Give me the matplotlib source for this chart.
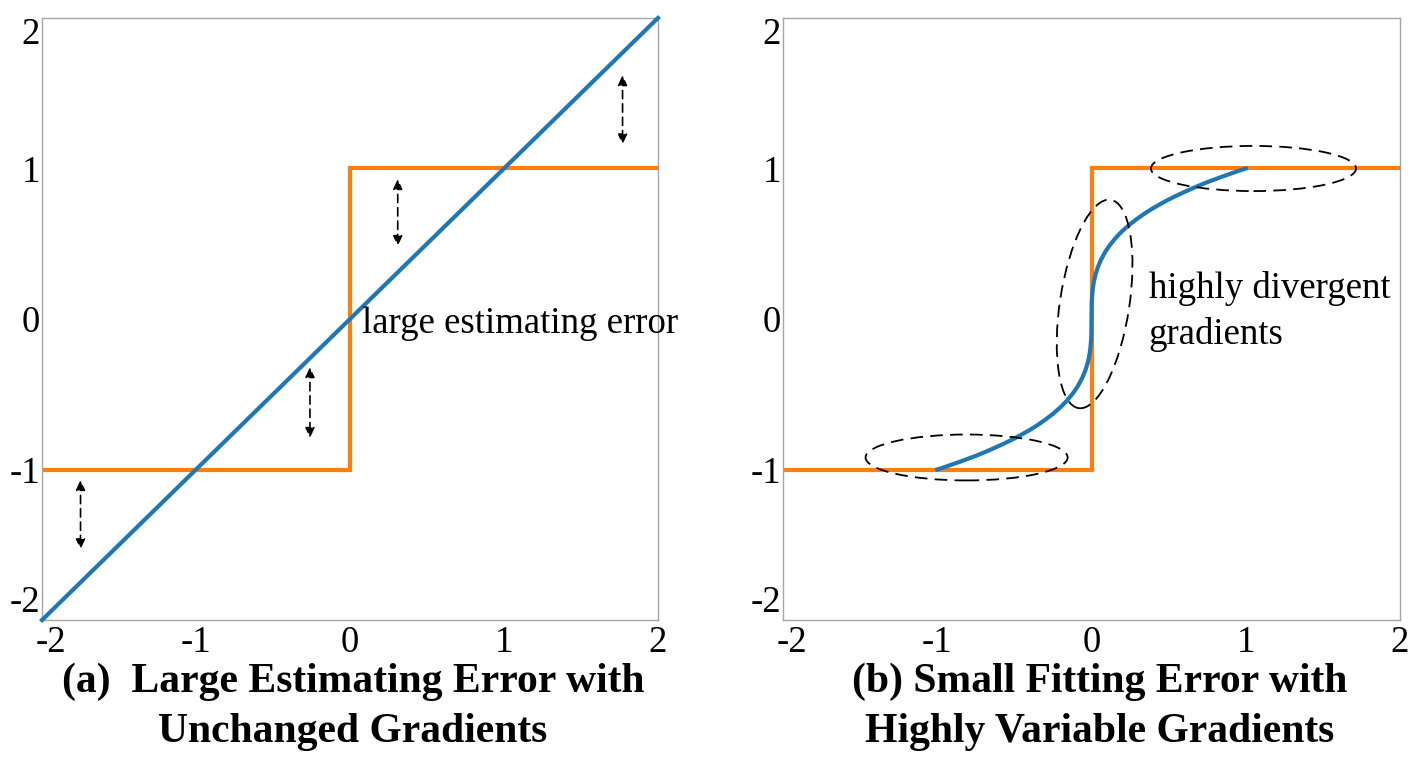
"""Two panels comparing a straight-through estimator (left) with a smooth
cube-root-like surrogate (right) against the sign step function."""

import matplotlib
matplotlib.use("Agg")
import matplotlib.pyplot as plt
import matplotlib.transforms as mtransforms
from matplotlib.patches import Ellipse, FancyArrowPatch

plt.rcParams["font.family"] = ["Liberation Serif", "DejaVu Serif"]

BLUE = "#1f77b4"
ORANGE = "#ff7f0e"
SPINE = "#a6a6a6"

TICKS = [-2, -1, 0, 1, 2]
TICK_LABELS = ["-2", "-1", "0", "1", "2"]

# sign step (both panels)
STEP_X = [-2, 0, 0, 2]
STEP_Y = [-1, -1, 1, 1]

# panel (a): identity estimator
LINEAR_X = [-2, 2]
LINEAR_Y = [-2, 2]

# panel (b): smooth surrogate
CURVE_X = [-1.0, -0.95, -0.9, -0.85, -0.8, -0.75, -0.7, -0.65, -0.6, -0.55,
           -0.5, -0.45, -0.4, -0.35, -0.3, -0.25, -0.2, -0.16, -0.12, -0.09,
           -0.06, -0.04, -0.025, -0.015, -0.008, -0.003, -0.001, 0.0,
           0.001, 0.003, 0.008, 0.015, 0.025, 0.04, 0.06, 0.09, 0.12, 0.16,
           0.2, 0.25, 0.3, 0.35, 0.4, 0.45, 0.5, 0.55, 0.6, 0.65, 0.7, 0.75,
           0.8, 0.85, 0.9, 0.95, 1.0]
CURVE_Y = [-1.0, -0.983, -0.965, -0.947, -0.928, -0.909, -0.888, -0.866,
           -0.843, -0.819, -0.794, -0.766, -0.737, -0.705, -0.669, -0.630,
           -0.585, -0.543, -0.493, -0.448, -0.391, -0.342, -0.292, -0.247,
           -0.200, -0.144, -0.100, 0.0,
           0.100, 0.144, 0.200, 0.247, 0.292, 0.342, 0.391, 0.448, 0.493,
           0.543, 0.585, 0.630, 0.669, 0.705, 0.737, 0.766, 0.794, 0.819,
           0.843, 0.866, 0.888, 0.909, 0.928, 0.947, 0.965, 0.983, 1.0]

# panel (a): dashed double arrows showing the error
ARROW_X = [1.77, 0.31, -0.26, -1.75]
ARROW_TOP = [1.62, 0.93, -0.32, -1.07]
ARROW_BOTTOM = [1.16, 0.485, -0.79, -1.53]

# panel (b): dashed ellipses
ELLIPSE_CX = [1.05, -0.81, 0.02]
ELLIPSE_CY = [1.0, -0.92, 0.10]
ELLIPSE_W = [1.33, 1.31, 0.45]
ELLIPSE_H = [0.30, 0.305, 1.40]
ELLIPSE_ANGLE = [0, 0, -8.5]

fig = plt.figure(figsize=(14.15, 7.59), dpi=100)
ax_a = fig.add_axes([0.0297, 0.1831, 0.4353, 0.7932])
ax_b = fig.add_axes([0.5534, 0.1831, 0.4360, 0.7932])


def style_axes(ax):
    ax.set_xlim(-2, 2)
    ax.set_ylim(-2, 2)
    ax.set_xticks(TICKS, TICK_LABELS)
    ax.set_yticks(TICKS, TICK_LABELS)
    ax.tick_params(axis="both", length=0, labelsize=26.5)
    ax.tick_params(axis="x", pad=4)
    ax.tick_params(axis="y", pad=1.5)
    for spine in ax.spines.values():
        spine.set_color(SPINE)
        spine.set_linewidth(1.0)
    # end labels sit inside the corners like in the original
    ylabels = ax.get_yticklabels()
    ylabels[-1].set_verticalalignment("top")
    ylabels[0].set_verticalalignment("bottom")
    xlabels = ax.get_xticklabels()
    shift = mtransforms.ScaledTranslation(9 / 100, 0, fig.dpi_scale_trans)
    xlabels[0].set_transform(xlabels[0].get_transform() + shift)


for ax in (ax_a, ax_b):
    style_axes(ax)
    ax.plot(STEP_X, STEP_Y, color=ORANGE, lw=3, solid_joinstyle="miter",
            zorder=2)

# ---- panel (a)
ax_a.plot(LINEAR_X, LINEAR_Y, color=BLUE, lw=3, zorder=3, clip_on=False)
for x, top, bottom in zip(ARROW_X, ARROW_TOP, ARROW_BOTTOM):
    arrow = FancyArrowPatch((x, top), (x, bottom),
                            arrowstyle="<|-|>,head_length=0.6,head_width=0.28",
                            mutation_scale=10, color="black", lw=1.2,
                            linestyle=(0, (5, 3)), shrinkA=0, shrinkB=0)
    ax_a.add_patch(arrow)
ax_a.text(0.08, -0.093, "large estimating error", fontsize=26.5,
          ha="left", va="baseline")

# ---- panel (b)
ax_b.plot(CURVE_X, CURVE_Y, color=BLUE, lw=3, zorder=3,
          solid_joinstyle="round")
for cx, cy, w, h, ang in zip(ELLIPSE_CX, ELLIPSE_CY, ELLIPSE_W, ELLIPSE_H,
                             ELLIPSE_ANGLE):
    ax_b.add_patch(Ellipse((cx, cy), w, h, angle=ang, fill=False,
                           ec="black", lw=1.3, linestyle=(0, (7, 4)),
                           zorder=4))
ax_b.text(0.37, 0.14, "highly divergent", fontsize=26.5, ha="left",
          va="baseline")
ax_b.text(0.37, -0.166, "gradients", fontsize=26.5, ha="left",
          va="baseline")

# ---- captions
fig.text(0.2495, 0.0685, "(a)  Large Estimating Error with\nUnchanged Gradients",
         ha="center", va="center", fontsize=30, fontweight="bold",
         linespacing=1.4)
fig.text(0.7774, 0.0685, "(b) Small Fitting Error with\nHighly Variable Gradients",
         ha="center", va="center", fontsize=30, fontweight="bold",
         linespacing=1.4)

fig.savefig("out.png", dpi=100)
